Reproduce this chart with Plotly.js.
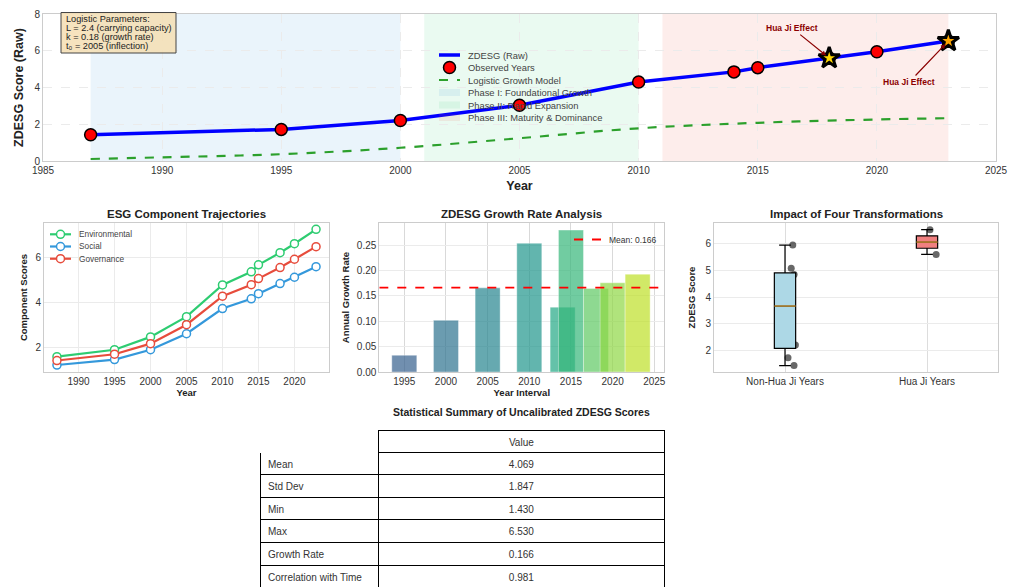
<!DOCTYPE html>
<html>
<head>
<meta charset="utf-8">
<script src="https://cdn.plot.ly/plotly-3.0.1.min.js"></script>
<style>
  html, body { margin: 0; padding: 0; background: #ffffff; }
  #chart { width: 1009px; height: 588px; }
</style>
</head>
<body>
<div id="chart"></div>
<script>
// ---- ZDESG raw scores by observed year ----
const years = [1987, 1995, 2000, 2005, 2010, 2014, 2015, 2018, 2020, 2023];
const zdesg = [1.43, 1.72, 2.20, 3.03, 4.30, 4.85, 5.08, 5.60, 5.95, 6.53];
const huaJiYears = [2018, 2023];

// ---- logistic growth model (L = 2.4, k = 0.18, t0 = 2005) ----
const logisticYears = [1987, 1990, 1995, 2000, 2005, 2010, 2015, 2020, 2023];
const logisticValues = [0.11, 0.20, 0.37, 0.72, 1.24, 1.78, 2.08, 2.26, 2.33];
const logisticParams = ['Logistic Parameters:', 'L = 2.4 (carrying capacity)', 'k = 0.18 (growth rate)', 't₀ = 2005 (inflection)'];

// ---- development phases ----
const phaseNames = ['Phase I: Foundational Growth', 'Phase II: Rapid Expansion', 'Phase III: Maturity & Dominance'];
const phaseStart = [1987, 2001, 2011];
const phaseEnd = [2000, 2010, 2023];

// ---- ESG component scores ----
const componentNames = ['Environmental', 'Social', 'Governance'];
const environmental = [1.58, 1.89, 2.46, 3.36, 4.77, 5.35, 5.66, 6.20, 6.60, 7.24];
const social = [1.21, 1.45, 1.89, 2.60, 3.72, 4.15, 4.38, 4.83, 5.11, 5.58];
const governance = [1.41, 1.69, 2.16, 3.00, 4.27, 4.78, 5.05, 5.54, 5.91, 6.47];

// ---- annual growth rate per interval ----
const growthYears = [1995, 2000, 2005, 2010, 2014, 2015, 2018, 2020, 2023];
const growthRates = [0.033, 0.102, 0.166, 0.254, 0.128, 0.280, 0.165, 0.176, 0.193];

// ---- box plot groups ----
const groupLabels = ['Non-Hua Ji Years', 'Hua Ji Years'];

// ---- summary table ----
const statLabels = ['Mean', 'Std Dev', 'Min', 'Max', 'Growth Rate', 'Correlation with Time'];
const statValues = ['4.069', '1.847', '1.430', '6.530', '0.166', '0.981'];

// ---------------------------------------------------------------
const W = 1009, H = 588;
const px = x => x / W;          // pixel -> paper (x)
const py = y => 1 - y / H;      // pixel -> paper (y)
const FONT = '"Liberation Sans", Arial, sans-serif';
const TXT = '#333333';
const viridis = ['#355f8d', '#2c728e', '#25848e', '#1f968b', '#22a884', '#35b779', '#5ec962', '#8fd744', '#bddf26'];
const phaseColors = ['rgba(52,152,219,0.10)', 'rgba(46,204,113,0.10)', 'rgba(231,76,60,0.10)'];
const componentColors = ['#2ecc71', '#3498db', '#e74c3c'];
const groupFill = ['#add8e6', '#f08080'];

function hexA(hex, a) {
  const n = parseInt(hex.slice(1), 16);
  return `rgba(${(n >> 16) & 255},${(n >> 8) & 255},${n & 255},${a})`;
}
function quantile(arr, p) {
  const s = arr.slice().sort((a, b) => a - b);
  const pos = (s.length - 1) * p;
  const lo = Math.floor(pos), hi = Math.ceil(pos);
  return s[lo] + (s[hi] - s[lo]) * (pos - lo);
}

const isHuaJi = years.map(y => huaJiYears.includes(y));
const huaJiScores = zdesg.filter((v, i) => isHuaJi[i]);
const otherScores = zdesg.filter((v, i) => !isHuaJi[i]);
const groups = [otherScores, huaJiScores];
const meanGrowth = growthRates.reduce((a, b) => a + b, 0) / growthRates.length;
const growthRange = [1992.0, 2026.2];

const traces = [];

// growth-rate bars and mean line
traces.push({
  type: 'bar', x: growthYears, y: growthRates, width: 3,
  marker: { color: viridis.map(c => hexA(c, 0.7)), line: { width: 0.6, color: 'rgba(255,255,255,0.6)' } },
  xaxis: 'x3', yaxis: 'y3', showlegend: false, hoverinfo: 'skip'
});
traces.push({
  type: 'scatter', mode: 'lines', x: growthRange, y: [meanGrowth, meanGrowth],
  name: 'Mean: ' + meanGrowth.toFixed(3), line: { color: '#ff0000', width: 1.8, dash: 'dash' },
  xaxis: 'x3', yaxis: 'y3', legend: 'legend3'
});

// main ZDESG chart
const mainStyles = {
  raw: { color: '#0000ff', width: 3.5 },
  obs: { color: '#ff0000', size: 12, line: { color: '#000000', width: 1.5 } },
  logistic: { color: '#2ca02c', width: 2.2, dash: 'dash' }
};
traces.push({
  type: 'scatter', mode: 'lines', x: logisticYears, y: logisticValues, name: 'Logistic Growth Model',
  line: Object.assign({ shape: 'spline' }, mainStyles.logistic), showlegend: false, xaxis: 'x', yaxis: 'y'
});
traces.push({
  type: 'scatter', mode: 'lines', x: years, y: zdesg, name: 'ZDESG (Raw)',
  line: mainStyles.raw, showlegend: false, xaxis: 'x', yaxis: 'y'
});
traces.push({
  type: 'scatter', mode: 'markers', x: years, y: zdesg, name: 'Observed Years',
  marker: mainStyles.obs, showlegend: false, xaxis: 'x', yaxis: 'y'
});
traces.push({
  type: 'scatter', mode: 'markers', x: huaJiYears, y: huaJiScores, showlegend: false,
  marker: { symbol: 'star', color: ['#ffd700', '#ffa500'], size: 16, line: { color: '#000000', width: 3 } },
  xaxis: 'x', yaxis: 'y'
});

// ESG components
[environmental, social, governance].forEach((vals, k) => {
  traces.push({
    type: 'scatter', mode: 'lines+markers', x: years, y: vals, name: componentNames[k],
    line: { color: componentColors[k], width: 2.2 },
    marker: { color: '#ffffff', size: 8, line: { color: componentColors[k], width: 1.5 } },
    xaxis: 'x2', yaxis: 'y2', showlegend: false
  });
});

// box plot: sample points first, boxes drawn over them
groups.forEach((g, i) => {
  traces.push({
    type: 'box', x: g.map(() => i), y: g, boxpoints: 'all', jitter: 0.5, pointpos: 0.6,
    width: 0.15, fillcolor: 'rgba(0,0,0,0)', line: { width: 0, color: 'rgba(0,0,0,0)' },
    marker: { color: 'rgba(40,40,40,0.7)', size: 7 },
    xaxis: 'x4', yaxis: 'y4', showlegend: false, hoverinfo: 'skip'
  });
});
groups.forEach((g, i) => {
  traces.push({
    type: 'box', x: [i], q1: [quantile(g, 0.25)], median: [quantile(g, 0.5)], q3: [quantile(g, 0.75)],
    lowerfence: [Math.min(...g)], upperfence: [Math.max(...g)], boxpoints: false,
    width: 0.15, whiskerwidth: 0.55, fillcolor: groupFill[i], line: { color: '#000000', width: 1.2 },
    xaxis: 'x4', yaxis: 'y4', showlegend: false, hoverinfo: 'skip'
  });
});

// summary table
traces.push({
  type: 'table',
  domain: { x: [px(260), px(665)], y: [0, py(430)] },
  columnwidth: [119, 286],
  header: {
    values: ['', 'Value'], height: 22, align: ['left', 'center'],
    fill: { color: '#ffffff' }, line: { color: ['#ffffff', '#000000'], width: 1 },
    font: { family: FONT, size: 10, color: TXT }
  },
  cells: {
    values: [statLabels, statValues], height: 22.6, align: ['left', 'center'],
    fill: { color: '#ffffff' }, line: { color: '#000000', width: 1 },
    font: { family: FONT, size: 10, color: TXT }
  }
});

// ---- shapes and annotations ----
const shapes = [];
const annotations = [];

phaseNames.forEach((n, i) => {
  shapes.push({
    type: 'rect', xref: 'x', yref: 'y domain', x0: phaseStart[i], x1: phaseEnd[i], y0: 0, y1: 1,
    fillcolor: phaseColors[i], line: { width: 0 }, layer: 'below'
  });
});
groups.forEach((g, i) => {
  const m = quantile(g, 0.5);
  shapes.push({
    type: 'line', xref: 'x4', yref: 'y4', x0: i - 0.075, x1: i + 0.075, y0: m, y1: m,
    line: { color: '#e0a030', width: 1.2 }, layer: 'above'
  });
});

// compact legend key drawn in paper space
function legendKey(x0, yTop, rowH, sampleW, fontSize, entries) {
  entries.forEach((e, r) => {
    const yc = yTop + r * rowH;
    const xa = x0, xb = x0 + sampleW, xm = (xa + xb) / 2;
    if (e.line) {
      shapes.push({ type: 'line', xref: 'paper', yref: 'paper', x0: px(xa), x1: px(xb), y0: py(yc), y1: py(yc),
        line: e.line, layer: 'above' });
    }
    if (e.patch) {
      shapes.push({ type: 'rect', xref: 'paper', yref: 'paper', x0: px(xa), x1: px(xb), y0: py(yc + 3.5), y1: py(yc - 3.5),
        fillcolor: e.patch, line: { width: 0 }, layer: 'above' });
    }
    if (e.marker) {
      const r0 = e.marker.size / 2;
      shapes.push({ type: 'circle', xref: 'paper', yref: 'paper', x0: px(xm - r0), x1: px(xm + r0), y0: py(yc + r0), y1: py(yc - r0),
        fillcolor: e.marker.color, line: e.marker.line, layer: 'above' });
    }
    annotations.push({ xref: 'paper', yref: 'paper', x: px(xb + 6), y: py(yc), xanchor: 'left', yanchor: 'middle',
      showarrow: false, text: e.name, font: { family: FONT, size: fontSize, color: '#444444' } });
  });
}

legendKey(439, 55, 12.5, 21, 9.4, [
  { name: 'ZDESG (Raw)', line: mainStyles.raw },
  { name: 'Observed Years', marker: mainStyles.obs },
  { name: 'Logistic Growth Model', line: mainStyles.logistic },
  { name: phaseNames[0], patch: phaseColors[0] },
  { name: phaseNames[1], patch: phaseColors[1] },
  { name: phaseNames[2], patch: phaseColors[2] }
]);
legendKey(50, 234.3, 12.2, 21, 8.3, componentNames.map((n, k) => ({
  name: n, line: { color: componentColors[k], width: 2.2 },
  marker: { size: 8, color: '#ffffff', line: { color: componentColors[k], width: 1.5 } }
})));

// logistic parameter box
shapes.push({ type: 'rect', xref: 'paper', yref: 'paper', x0: px(61), x1: px(176), y0: py(53), y1: py(12.5),
  fillcolor: 'rgba(245,222,179,0.85)', line: { color: '#444444', width: 1 }, layer: 'above' });
logisticParams.forEach((t, i) => {
  annotations.push({ xref: 'paper', yref: 'paper', x: px(64), y: py(19 + i * 9.1), xanchor: 'left', yanchor: 'middle',
    showarrow: false, text: t, font: { family: FONT, size: 9.2, color: '#222222' } });
});

// titles
const dom = {
  top: [px(43), px(996)], topY: [py(161), py(14)],
  botY: [py(372), py(223)],
  c1: [px(44), px(329)], c2: [px(379.3), px(664.3)], c3: [px(714), px(998)]
};
[['ESG Component Trajectories', dom.c1], ['ZDESG Growth Rate Analysis', dom.c2], ['Impact of Four Transformations', dom.c3]]
  .forEach(([t, d]) => {
    annotations.push({ xref: 'paper', yref: 'paper', x: (d[0] + d[1]) / 2, y: py(214), xanchor: 'center', yanchor: 'middle',
      showarrow: false, text: '<b>' + t + '</b>', font: { family: FONT, size: 11.5, color: '#222222' } });
  });
annotations.push({ xref: 'paper', yref: 'paper', x: px(521), y: py(412), xanchor: 'center', yanchor: 'middle', showarrow: false,
  text: '<b>Statistical Summary of Uncalibrated ZDESG Scores</b>', font: { family: FONT, size: 10.5, color: '#222222' } });

// Hua Ji markers callouts
const callouts = [{ ax: -37, ay: -30 }, { ax: -39, ay: 41 }];
huaJiYears.forEach((yr, i) => {
  annotations.push({ xref: 'x', yref: 'y', x: yr, y: huaJiScores[i], ax: callouts[i].ax, ay: callouts[i].ay,
    text: '<b>Hua Ji Effect</b>', font: { family: FONT, size: 8.5, color: '#8b0000' },
    showarrow: true, arrowhead: 2, arrowsize: 0.8, arrowwidth: 1.2, arrowcolor: '#8b0000', standoff: 4 });
});

// ---- axes ----
function axis(extra) {
  return Object.assign({
    showline: true, mirror: true, linecolor: '#cccccc', linewidth: 1,
    showgrid: true, gridcolor: '#ebebeb', gridwidth: 1, zeroline: false, ticks: '',
    tickfont: { family: FONT, size: 10, color: TXT }, automargin: false
  }, extra);
}
function ttl(text, size, standoff) {
  return { text: '<b>' + text + '</b>', font: { family: FONT, size: size, color: '#222222' }, standoff: standoff };
}

const layout = {
  width: W, height: H, margin: { l: 0, r: 0, t: 0, b: 0 },
  paper_bgcolor: '#ffffff', plot_bgcolor: '#ffffff',
  font: { family: FONT, color: TXT },
  boxmode: 'overlay', barmode: 'overlay',
  showlegend: true,
  xaxis: axis({ domain: dom.top, anchor: 'y', range: [1985, 2025], dtick: 5, tick0: 1985,
    griddash: 'dash', title: ttl('Year', 12.5, 6) }),
  yaxis: axis({ domain: dom.topY, anchor: 'x', range: [0, 8], dtick: 2, griddash: 'dash',
    title: ttl('ZDESG Score (Raw)', 12.5, 8) }),
  xaxis2: axis({ domain: dom.c1, anchor: 'y2', range: [1985.2, 2024.8], tickvals: [1990, 1995, 2000, 2005, 2010, 2015, 2020],
    title: ttl('Year', 9.5, 2) }),
  yaxis2: axis({ domain: dom.botY, anchor: 'x2', range: [0.9, 7.52], tickvals: [2, 4, 6],
    title: ttl('Component Scores', 9.5, 6) }),
  xaxis3: axis({ domain: dom.c2, anchor: 'y3', range: growthRange, tickvals: [1995, 2000, 2005, 2010, 2015, 2020, 2025],
    gridcolor: '#d9d9d9', title: ttl('Year Interval', 9.5, 2) }),
  yaxis3: axis({ domain: dom.botY, anchor: 'x3', range: [0, 0.294], dtick: 0.05, tickformat: '.2f',
    title: ttl('Annual Growth Rate', 9.5, 5) }),
  xaxis4: axis({ domain: dom.c3, anchor: 'y4', range: [-0.5, 1.5], tickvals: [0, 1], ticktext: groupLabels,
    gridcolor: '#dddddd' }),
  yaxis4: axis({ domain: dom.botY, anchor: 'x4', range: [1.19, 6.78], tickvals: [2, 3, 4, 5, 6],
    title: ttl('ZDESG Score', 9.5, 8) }),
  legend3: { x: px(662), y: py(225), xanchor: 'right', yanchor: 'top', bgcolor: 'rgba(0,0,0,0)',
    font: { family: FONT, size: 8.5, color: TXT }, itemwidth: 30 },
  shapes: shapes,
  annotations: annotations
};

Plotly.newPlot('chart', traces, layout, { displayModeBar: false, staticPlot: true });
</script>
</body>
</html>
